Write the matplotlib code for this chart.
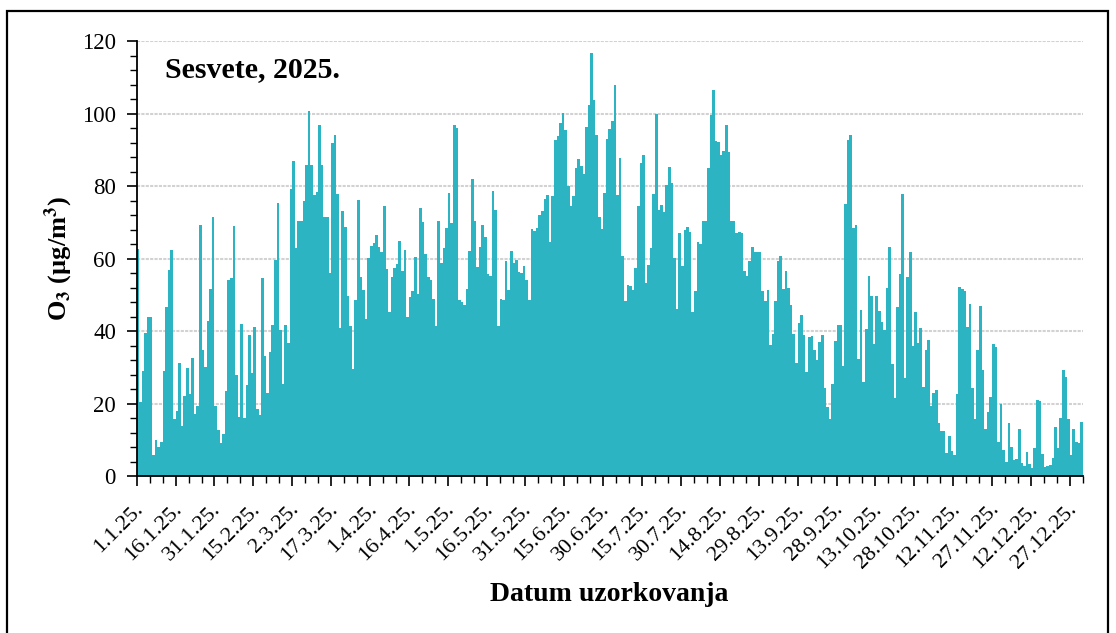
import numpy as np
import matplotlib
matplotlib.use('Agg')
import matplotlib.pyplot as plt
from matplotlib.patches import Rectangle
from matplotlib.ticker import MultipleLocator, FixedLocator
import matplotlib.transforms as mtrans

plt.rcParams['font.family'] = 'Liberation Serif'
plt.rcParams['mathtext.fontset'] = 'stix'

# daily O3 (µg/m3), Sesvete 2025
jan = [62.7, 20.5, 28.9, 39.5, 43.9, 43.9, 5.8, 10, 7.9, 9.4, 28.9, 46.6, 56.9, 62.5, 15.7, 18,
       31.3, 13.8, 22, 29.9, 22.5, 32.6, 17.2, 19.3, 69.3, 34.7, 30.1, 42.7, 51.7, 71.6, 19.4]
feb = [12.7, 9, 11.7, 23.5, 54, 54.7, 68.9, 28, 16.3, 42, 16.1, 25, 39, 28.4, 41, 18.6,
       16.8, 54.7, 33.1, 22.8, 34.2, 41.6, 59.7, 75.2, 40.2, 25.5, 41.6, 36.8]
mar = [79.2, 86.8, 62.9, 70.5, 70.5, 75.8, 85.9, 100.6, 85.9, 77.6, 78.3, 96.9, 85.9, 71.6, 71.6, 56,
       91.8, 94.1, 77.8, 40.9, 73.2, 68.8, 49.8, 41.4, 29.4, 48.6, 76.1, 54.9, 51.4, 43.4, 60.2]
apr = [63.4, 64.2, 66.5, 63.3, 61.9, 74.4, 57.2, 45.2, 54.9, 57.3, 58.5, 64.8, 56.7, 62.5, 44,
       49.5, 51, 60.4, 50.3, 73.9, 70.2, 61.3, 54.9, 54.2, 48.9, 41.4, 70.5, 58.7, 62.9, 68.4]
may = [78.1, 69.7, 96.8, 96.1, 48.7, 48, 47.1, 51.7, 62.2, 81.9, 70.5, 57.6, 63.1, 69.3, 65.9, 55.8,
       55.3, 78.7, 73.4, 41.4, 48.9, 48.6, 59.2, 51.4, 62.2, 58.7, 59.7, 56.4, 56, 57.9, 54.2]
jun = [48.6, 68.2, 67.7, 68.4, 72.1, 73.2, 76.4, 77.5, 64.5, 77.2, 92.8, 93.7, 97.3, 100.1, 95.4,
       80.1, 74.4, 77.3, 85.1, 87.4, 85.6, 83.3, 96.4, 102.4, 116.8, 103.7, 94.1, 71.6, 68.3, 78.1]
jul = [93.1, 95.7, 98, 107.8, 77.6, 87.7, 60.8, 48.4, 52.8, 52.3, 51.4, 57.4, 74.4, 86.3, 88.5, 53.2,
       58.1, 62.9, 77.8, 99.8, 73.5, 74.9, 72.8, 80.4, 85.4, 80.8, 60.2, 46.1, 67.1, 57.9, 67.9]
aug = [68.8, 67.4, 45.2, 51, 64.5, 63.9, 70.3, 70.5, 85.1, 99.6, 106.4, 92.5, 92.3, 88.5, 89.7, 96.8,
       89.3, 70.5, 70.3, 67, 67.2, 67.1, 56.7, 55.3, 59.2, 63.1, 61.9, 61.7, 61.7, 51, 48.4]
sep = [51.2, 36.1, 39.3, 48.3, 59.4, 60.8, 51.7, 56.7, 51.9, 47.3, 39.3, 31.2, 42.2, 44.3, 38.8,
       28.7, 38.3, 38.5, 34.7, 32.1, 37, 38.8, 24.3, 19.1, 15.6, 25.3, 37.2, 41.8, 41.8, 30.3]
oct = [75, 92.8, 94, 68.4, 69.3, 32.4, 45.9, 26, 40.6, 55.3, 49.8, 36.3, 49.8, 45.5, 42.5, 40.2,
       51.9, 63.3, 31, 21.4, 46.6, 55.8, 77.8, 27.1, 54.9, 61.9, 35.8, 45.2, 36.7, 40.9, 24.6]
nov = [34.7, 37.6, 19.3, 22.9, 23.7, 14.7, 12.4, 12.5, 6.4, 11, 7, 5.8, 22.6, 52.1, 51.5,
       51, 41.1, 47.5, 24.4, 15.7, 34.7, 46.9, 29.2, 13.1, 17.7, 21.7, 36.3, 35.6, 9.4, 20]
dec = [7.2, 3.9, 14.5, 8.1, 4.4, 4.6, 13.1, 3.7, 2.8, 6.5, 3.3, 2.1, 7.6, 20.9, 20.6, 6,
       2.6, 2.8, 3, 5, 13.6, 7.6, 15.9, 29.2, 27.2, 15.7, 5.8, 12.9, 9.4, 9, 14.8]

date_labels = ['1.1.25.', '16.1.25.', '31.1.25.', '15.2.25.', '2.3.25.', '17.3.25.', '1.4.25.',
               '16.4.25.', '1.5.25.', '16.5.25.', '31.5.25.', '15.6.25.', '30.6.25.', '15.7.25.',
               '30.7.25.', '14.8.25.', '29.8.25.', '13.9.25.', '28.9.25.', '13.10.25.', '28.10.25.',
               '12.11.25.', '27.11.25.', '12.12.25.', '27.12.25.']

o3 = np.array(jan + feb + mar + apr + may + jun + jul + aug + sep + oct + nov + dec)
days = np.arange(len(o3))

fig = plt.figure(figsize=(11.16, 6.33), dpi=100)
ax = fig.add_axes([0.1225, 0.248, 0.8477, 0.687])

ax.bar(days, o3, width=1.0, align='edge', color='#2cb4c2', linewidth=0)

ax.set_xlim(0, 365)
ax.set_ylim(0, 120)
ax.yaxis.set_major_locator(MultipleLocator(20))
ax.yaxis.set_minor_locator(MultipleLocator(4))
ax.xaxis.set_major_locator(FixedLocator(np.arange(0, 361, 15)))
ax.xaxis.set_minor_locator(MultipleLocator(5))
ax.set_xticklabels(date_labels, rotation=45, ha='right', rotation_mode='anchor')

ax.grid(axis='y', color='#d2d2d2', linestyle=(0, (1.5, 0.6)), linewidth=1.5)
ax.set_axisbelow(True)
for s in ['top', 'right']:
    ax.spines[s].set_visible(False)
for s in ['left', 'bottom']:
    ax.spines[s].set_linewidth(1.3)

ax.tick_params(axis='y', which='major', labelsize=16.5, length=7, width=1.2, pad=8)
ax.tick_params(axis='y', which='minor', length=5, width=1.0)
ax.tick_params(axis='x', which='major', labelsize=16, length=7, width=1.2, pad=2)
ax.tick_params(axis='x', which='minor', length=5, width=1.0)

offset = mtrans.ScaledTranslation(-2 / 72, -8 / 72, fig.dpi_scale_trans)
for lab in ax.get_xticklabels():
    lab.set_transform(lab.get_transform() + offset)

ax.text(0.030, 0.917, 'Sesvete, 2025.', transform=ax.transAxes, fontsize=21.5,
        fontweight='bold', va='baseline', ha='left')

ax.set_ylabel(r'O$_{\mathbf{3}}$ (µg/m$^{\mathbf{3}}$)', fontsize=19, fontweight='bold')
ax.yaxis.set_label_coords(-0.065, 0.5)
ax.set_xlabel('Datum uzorkovanja', fontsize=20, fontweight='bold')
ax.xaxis.set_label_coords(0.499, -0.244)

fig.patches.append(Rectangle((7 / 1116, -0.05), 1101 / 1116, 1.05 - 11 / 633,
                             transform=fig.transFigure, fill=False, edgecolor='black',
                             linewidth=1.6))

fig.savefig('out.png', dpi=100)
